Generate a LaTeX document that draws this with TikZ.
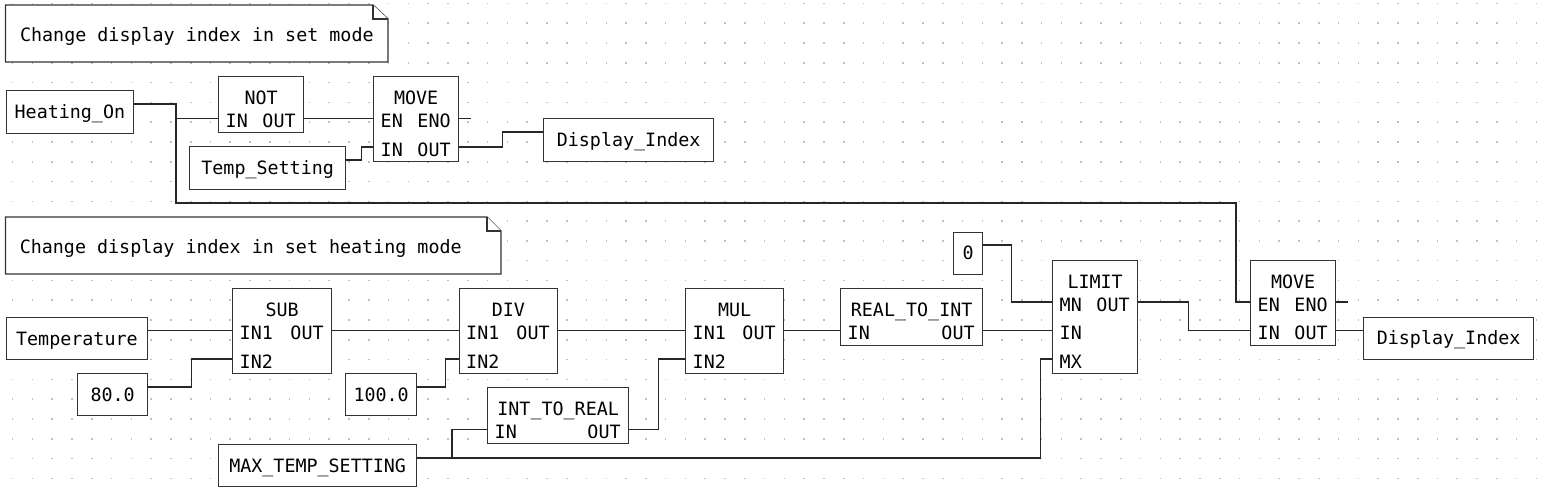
\documentclass[tikz,border=0pt]{standalone}
\usepackage{fontspec}
\setmonofont{DejaVu Sans Mono}
\usepackage{tikz}
\usetikzlibrary{calc}

\begin{document}
\begin{tikzpicture}[
            x=1pt, y=-1pt,
            font=\ttfamily\fontsize{18.35}{22}\selectfont,
            fb/.style={draw=black!80, fill=white, rectangle, anchor=north west, inner sep=0pt, line width=1.3pt},
            var/.style={fb, text height=13.4pt, text depth=0pt},
            fbname/.style={inner sep=0pt, text height=13.4pt, text depth=0pt},
            pinl/.style={anchor=west, inner xsep=7.5pt, inner ysep=0pt, text height=18.4pt, text depth=0pt},
            pinr/.style={anchor=east, inner xsep=8.5pt, inner ysep=0pt, text height=18.4pt, text depth=0pt},
            wire/.style={draw=black!85, line width=1.3pt},
            notebox/.style={draw=black!80, fill=white, line width=1.3pt},
            notetext/.style={anchor=west, inner sep=0pt, text height=13.4pt, text depth=0pt},
            griddot/.style={fill=black!25}
        ]
            \fill[white] (0,0) rectangle (1544,495);
            \useasboundingbox (0,0) rectangle (1544,495);
            % dotted grid
            \foreach \i in {0,...,77} {
                \foreach \j in {0,...,24} {
                    \fill[griddot] (12.6+19.79*\i-0.8, 3.4+19.79*\j-0.8) rectangle ++(1.6,1.6);
                }
            }

            % set mode
            \draw[notebox] (5.5,5) -- (373,5) -- (388,19) -- (388,62) -- (5.5,62) -- cycle;
            \draw[notebox] (373,5) |- (388,19);
            \node[notetext] (note1) at (19.9,34.5) {Change display index in set mode};

            \node[var, minimum width=127.5pt, minimum height=43pt] (heat) at (5.5,90) {Heating\_On};
            \node[var, minimum width=156pt, minimum height=43pt] (tset) at (189,146) {Temp\_Setting};
            \node[var, minimum width=170pt, minimum height=43pt] (dis1) at (543,118) {Display\_Index};

            \node[fb, minimum width=85pt, minimum height=56pt] (not) at (218,76) {};
            \node[fbname] at ($(not.north)+(0,22)$) {NOT};
            \node[pinl] (not-in) at ($(not.north west)+(0,42.5)$) {IN};
            \node[pinr] (not-out) at ($(not.north east)+(0,42.5)$) {OUT};

            \node[fb, minimum width=85pt, minimum height=85pt] (mv1) at (373,76) {};
            \node[fbname] at ($(mv1.north)+(0,22)$) {MOVE};
            \node[pinl] (mv1-en) at ($(mv1.north west)+(0,42.5)$) {EN};
            \node[pinr] (mv1-eno) at ($(mv1.north east)+(0,42.5)$) {ENO};
            \node[pinl] (mv1-in) at ($(mv1.north west)+(0,71)$) {IN};
            \node[pinr] (mv1-out) at ($(mv1.north east)+(0,71)$) {OUT};

            % set heating mode
            \draw[notebox] (5.5,217) -- (487,217) -- (501,231) -- (501,274) -- (5.5,274) -- cycle;
            \draw[notebox] (487,217) |- (501,231);
            \node[notetext] (note2) at (19.6,246.5) {Change display index in set heating mode};

            \node[var, minimum width=141.5pt, minimum height=42.5pt] (temp) at (5.5,316.5) {Temperature};
            \node[var, minimum width=70pt, minimum height=42pt] (c80) at (77,373) {80.0};
            \node[var, minimum width=71pt, minimum height=42pt] (c100) at (345,373) {100.0};
            \node[var, minimum width=198pt, minimum height=42pt] (maxt) at (218,444) {MAX\_TEMP\_SETTING};
            \node[var, minimum width=29pt, minimum height=42pt] (zero) at (953,231.5) {0};
            \node[var, minimum width=170pt, minimum height=42pt] (dis2) at (1363,316.5) {Display\_Index};

            \node[fb, minimum width=99pt, minimum height=85pt] (sub) at (232,288) {};
            \node[fbname] at ($(sub.north)+(0,22)$) {SUB};
            \node[pinl] (sub-in1) at ($(sub.north west)+(0,42.5)$) {IN1};
            \node[pinr] (sub-out) at ($(sub.north east)+(0,42.5)$) {OUT};
            \node[pinl] (sub-in2) at ($(sub.north west)+(0,71)$) {IN2};

            \node[fb, minimum width=98.5pt, minimum height=85pt] (div) at (458.5,288) {};
            \node[fbname] at ($(div.north)+(0,22)$) {DIV};
            \node[pinl] (div-in1) at ($(div.north west)+(0,42.5)$) {IN1};
            \node[pinr] (div-out) at ($(div.north east)+(0,42.5)$) {OUT};
            \node[pinl] (div-in2) at ($(div.north west)+(0,71)$) {IN2};

            \node[fb, minimum width=98pt, minimum height=85pt] (mul) at (685,288) {};
            \node[fbname] at ($(mul.north)+(0,22)$) {MUL};
            \node[pinl] (mul-in1) at ($(mul.north west)+(0,42.5)$) {IN1};
            \node[pinr] (mul-out) at ($(mul.north east)+(0,42.5)$) {OUT};
            \node[pinl] (mul-in2) at ($(mul.north west)+(0,71)$) {IN2};

            \node[fb, minimum width=142pt, minimum height=57pt] (r2i) at (840,288) {};
            \node[fbname] at ($(r2i.north)+(0,22)$) {REAL\_TO\_INT};
            \node[pinl] (r2i-in) at ($(r2i.north west)+(0,42.5)$) {IN};
            \node[pinr] (r2i-out) at ($(r2i.north east)+(0,42.5)$) {OUT};

            \node[fb, minimum width=141pt, minimum height=56pt] (i2r) at (487,387) {};
            \node[fbname] at ($(i2r.north)+(0,22)$) {INT\_TO\_REAL};
            \node[pinl] (i2r-in) at ($(i2r.north west)+(0,42.5)$) {IN};
            \node[pinr] (i2r-out) at ($(i2r.north east)+(0,42.5)$) {OUT};

            \node[fb, minimum width=85pt, minimum height=113.5pt] (lim) at (1052,259.5) {};
            \node[fbname] at ($(lim.north)+(0,22)$) {LIMIT};
            \node[pinl] (lim-mn) at ($(lim.north west)+(0,42.5)$) {MN};
            \node[pinr] (lim-out) at ($(lim.north east)+(0,42.5)$) {OUT};
            \node[pinl] (lim-in) at ($(lim.north west)+(0,71)$) {IN};
            \node[pinl] (lim-mx) at ($(lim.north west)+(0,99.5)$) {MX};

            \node[fb, minimum width=85pt, minimum height=85pt] (mv2) at (1250,259.5) {};
            \node[fbname] at ($(mv2.north)+(0,22)$) {MOVE};
            \node[pinl] (mv2-en) at ($(mv2.north west)+(0,42.5)$) {EN};
            \node[pinr] (mv2-eno) at ($(mv2.north east)+(0,42.5)$) {ENO};
            \node[pinl] (mv2-in) at ($(mv2.north west)+(0,71)$) {IN};
            \node[pinr] (mv2-out) at ($(mv2.north east)+(0,71)$) {OUT};

            % wires
            \coordinate (j1) at (176,118.5);
            \coordinate (j2) at (1236,203);
            \coordinate (j3) at (452,458);
            \draw[wire] ($(heat.north east)+(0,14)$) -| (j1) |- (not-in.west);
            \draw[wire] (j1) |- (j2) |- (mv2-en.west);
            \draw[wire] (not-out.east) -- (mv1-en.west);
            \draw[wire] (mv1-eno.east) -- ++(12,0);
            \draw[wire] ($(tset.north east)+(0,14)$) -- ++(15,0) |- (mv1-in.west);
            \draw[wire] (mv1-out.east) -- ++(43,0) |- ($(dis1.north west)+(0,14)$);

            \draw[wire] ($(temp.north east)+(0,14)$) -- (sub-in1.west);
            \draw[wire] ($(c80.north east)+(0,14)$) -- ++(43,0) |- (sub-in2.west);
            \draw[wire] (sub-out.east) -- (div-in1.west);
            \draw[wire] ($(c100.north east)+(0,14)$) -- ++(28,0) |- (div-in2.west);
            \draw[wire] (div-out.east) -- (mul-in1.west);
            \draw[wire] ($(maxt.north east)+(0,14)$) -- ++(623,0) |- (lim-mx.west);
            \draw[wire] (j3) |- (i2r-in.west);
            \draw[wire] (i2r-out.east) -- ++(29,0) |- (mul-in2.west);
            \draw[wire] (mul-out.east) -- (r2i-in.west);
            \draw[wire] (r2i-out.east) -- (lim-in.west);
            \draw[wire] ($(zero.north east)+(0,13.5)$) -- ++(28,0) |- (lim-mn.west);
            \draw[wire] (lim-out.east) -- ++(50,0) |- (mv2-in.west);
            \draw[wire] (mv2-eno.east) -- ++(12,0);
            \draw[wire] (mv2-out.east) -- ($(dis2.north west)+(0,14)$);
        \end{tikzpicture}
\end{document}
